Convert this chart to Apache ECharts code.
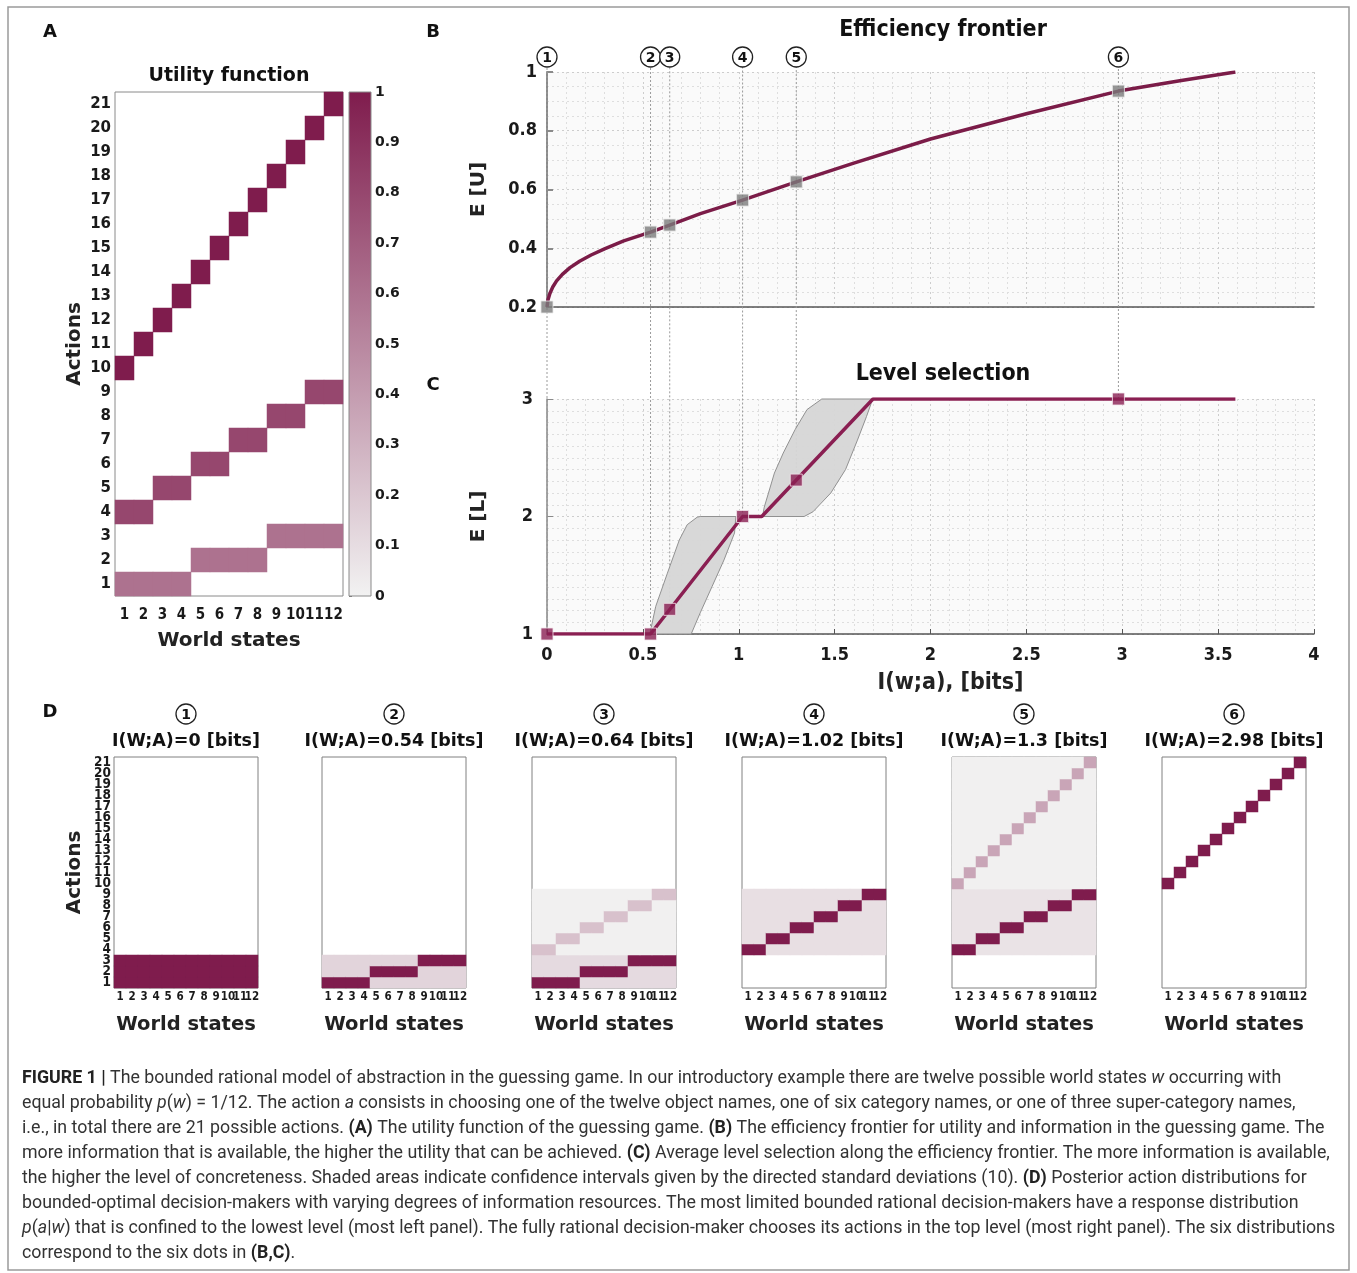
<!DOCTYPE html>
<html><head><meta charset="utf-8">
<script src="https://cdn.jsdelivr.net/npm/echarts@6/dist/echarts.min.js"></script>
<style>html,body{margin:0;padding:0;background:#fff}#chart{width:1357px;height:1273px}</style>
</head><body><div id="chart"></div><script>
// ---------- DATA ----------
const worldStates = ['1','2','3','4','5','6','7','8','9','10','11','12'];
const actions = ['1','2','3','4','5','6','7','8','9','10','11','12','13','14','15','16','17','18','19','20','21'];
// which action of each level is "correct" for each world state
const level1Action = [1,1,1,1,2,2,2,2,3,3,3,3];
const level2Action = [4,4,5,5,6,6,7,7,8,8,9,9];
const level3Action = [10,11,12,13,14,15,16,17,18,19,20,21];
const levelFirstAction = [1,4,10];
const levelLastAction = [3,9,21];
// utility of the correct action on each level (panel A)
const utilityByLevel = [0.6, 0.8, 1.0];
const colorbarTicks = [0,0.1,0.2,0.3,0.4,0.5,0.6,0.7,0.8,0.9,1];

// panel B: efficiency frontier
const frontierInfo = [0, 0.005, 0.015, 0.03, 0.05, 0.08, 0.12, 0.17, 0.23, 0.3, 0.4, 0.54, 0.64, 0.8, 1.02, 1.3, 1.6, 2.0, 2.5, 2.98, 3.3, 3.59];
const frontierUtil = [0.2, 0.224, 0.246, 0.268, 0.289, 0.311, 0.334, 0.356, 0.377, 0.398, 0.425, 0.455, 0.479, 0.518, 0.564, 0.626, 0.69, 0.772, 0.858, 0.935, 0.97, 1.0];
// the six marked decision-makers
const dotInfo  = [0, 0.54, 0.64, 1.02, 1.3, 2.98];
const dotUtil  = [0.2, 0.455, 0.479, 0.564, 0.626, 0.935];
const dotLevel = [1, 1, 1.21, 2, 2.31, 3];
const dotLabels = ['1','2','3','4','5','6'];
// panel C: level selection
const levelInfo = [0, 0.54, 1.02, 1.12, 1.7, 3.59];
const levelValue = [1, 1, 2, 2, 3, 3];
const band1 = [[0.536,1],[0.567,1.235],[0.628,1.518],[0.69,1.8],[0.731,1.93],[0.783,1.994],[0.799,2],[0.985,2],[0.978,1.86],[0.923,1.63],[0.861,1.405],[0.799,1.18],[0.752,1]];
const band2 = [[1.124,2],[1.341,2],[1.387,2.04],[1.48,2.2],[1.557,2.4],[1.619,2.65],[1.666,2.85],[1.69,2.96],[1.69,3],[1.433,3],[1.356,2.91],[1.294,2.74],[1.232,2.54],[1.186,2.37],[1.155,2.2],[1.133,2.08]];

// panel D: displayed intensity [correct action, other actions of the level] per level; null = empty
const panelTitles = ['I(W;A)=0 [bits]','I(W;A)=0.54 [bits]','I(W;A)=0.64 [bits]','I(W;A)=1.02 [bits]','I(W;A)=1.3 [bits]','I(W;A)=2.98 [bits]'];
const panelLevel1 = [[1,1],[1,0.14],[1,0.11],null,null,null];
const panelLevel2 = [null,null,[0.23,0.01],[1,0.09],[1,0.07],null];
const panelLevel3 = [null,null,null,null,[0.36,0.01],[1,0]];

const captionLines = [
 '{b|FIGURE 1 |} The bounded rational model of abstraction in the guessing game. In our introductory example there are twelve possible world states {i|w} occurring with',
 'equal probability {i|p}({i|w}) = 1/12. The action {i|a} consists in choosing one of the twelve object names, one of six category names, or one of three super-category names,',
 'i.e., in total there are 21 possible actions. {b|(A)} The utility function of the guessing game. {b|(B)} The efficiency frontier for utility and information in the guessing game. The',
 'more information that is available, the higher the utility that can be achieved. {b|(C)} Average level selection along the efficiency frontier. The more information is available,',
 'the higher the level of concreteness. Shaded areas indicate confidence intervals given by the directed standard deviations (10). {b|(D)} Posterior action distributions for',
 'bounded-optimal decision-makers with varying degrees of information resources. The most limited bounded rational decision-makers have a response distribution',
 '{i|p}({i|a}|{i|w}) that is confined to the lowest level (most left panel). The fully rational decision-maker chooses its actions in the top level (most right panel). The six distributions',
 'correspond to the six dots in {b|(B,C)}.'
];

// ---------- LAYOUT / STYLE ----------
const L = {
  a: {left:115, top:92, width:228, height:504},
  cbar: {left:349, top:92, width:22, height:504},
  b: {left:547, top:72, width:767, height:235},
  c: {left:547, top:399, width:767, height:235},
  dLefts: [114,322,532,742,952,1162], dTop:757, dWidth:144, dHeight:231,
  circleY: 57, circleR: 10, dCircleY: 714, dTitleY: 741
};
const LOW = '#f2f2f2', HIGH = '#7f1c4d';
const BOLD = 'DejaVu Sans';
const COND = "'DejaVu Sans Condensed', 'DejaVu Sans'";
const INK = '#1a1a1a';

const LEVEL_ACTIONS = [level1Action, level2Action, level3Action];
function buildCells(specs) {
  const cells = [];
  specs.forEach((spec, l) => {
    if (!spec) return;
    for (let s = 0; s < worldStates.length; s++) {
      for (let a = levelFirstAction[l]; a <= levelLastAction[l]; a++) {
        const v = LEVEL_ACTIONS[l][s] === a ? spec[0] : spec[1];
        if (v > 0) cells.push([s, a - 1, v]);
      }
    }
  });
  return cells;
}
const utilityCells = buildCells(utilityByLevel.map(u => [u, 0]));
const panelCells = panelTitles.map((t, i) => buildCells([panelLevel1[i], panelLevel2[i], panelLevel3[i]]));

const fmt1 = v => String(Math.round(v * 10) / 10);
const dotted = {type:[2,3], color:'#cdcdcd', width:1};
const minorDotted = {type:[2,3], color:'#dedede', width:1};

const grids = [
  Object.assign({show:true, borderColor:'#8a8a8a', borderWidth:1, backgroundColor:'#fff'}, L.a),
  Object.assign({show:false}, L.cbar),
  Object.assign({show:true, borderWidth:0, backgroundColor:'#fafafa'}, L.b),
  Object.assign({show:true, borderWidth:0, backgroundColor:'#fafafa'}, L.c)
];
L.dLefts.forEach(left => grids.push({show:true, borderColor:'#808080', borderWidth:1, backgroundColor:'#fff', left, top:L.dTop, width:L.dWidth, height:L.dHeight}));

const xAxes = [
  {gridIndex:0, type:'category', data:worldStates, axisLine:{show:false}, axisTick:{show:false}, splitLine:{show:false},
   axisLabel:{interval:0, margin:12, fontFamily:COND, fontWeight:'bold', fontSize:15, color:INK},
   name:'World states', nameLocation:'middle', nameGap:35, nameTextStyle:{fontFamily:BOLD, fontWeight:'bold', fontSize:20, color:'#222'}},
  {gridIndex:1, type:'value', min:0, max:1, show:false},
  {gridIndex:2, type:'value', min:0, max:4, interval:0.5, axisLabel:{show:false}, axisTick:{show:false},
   axisLine:{lineStyle:{color:'#555', width:1.5}}, splitLine:{show:true, lineStyle:dotted},
   minorTick:{show:false, splitNumber:5}, minorSplitLine:{show:true, lineStyle:minorDotted}},
  {gridIndex:3, type:'value', min:0, max:4, interval:0.5,
   axisLabel:{margin:12, fontFamily:COND, fontWeight:'bold', fontSize:18, color:INK},
   axisTick:{inside:true, length:5, lineStyle:{color:'#555'}},
   axisLine:{lineStyle:{color:'#555', width:1.5}}, splitLine:{show:true, lineStyle:dotted},
   minorTick:{show:false, splitNumber:5}, minorSplitLine:{show:true, lineStyle:minorDotted},
   name:'I(w;a), [bits]', nameLocation:'middle', nameGap:38, nameTextStyle:{fontFamily:COND, fontWeight:'bold', fontSize:23, color:'#222', padding:[0,0,0,40]}}
];
const yAxes = [
  {gridIndex:0, type:'category', data:actions, axisLine:{show:false}, axisTick:{show:false}, splitLine:{show:false},
   axisLabel:{interval:0, margin:4, fontFamily:BOLD, fontWeight:'bold', fontSize:15, color:INK},
   name:'Actions', nameLocation:'middle', nameGap:30, nameRotate:90, nameTextStyle:{fontFamily:BOLD, fontWeight:'bold', fontSize:20, color:'#222'}},
  {gridIndex:1, type:'value', min:0, max:1, interval:0.1, position:'right',
   axisLine:{show:false}, axisTick:{show:true, length:3, lineStyle:{color:'#777'}}, splitLine:{show:false},
   axisLabel:{margin:4, formatter:fmt1, fontFamily:BOLD, fontWeight:'bold', fontSize:14, color:INK}},
  {gridIndex:2, type:'value', min:0.2, max:1, interval:0.2,
   axisLine:{show:true, lineStyle:{color:'#8a8a8a', width:2}}, axisTick:{show:true, inside:true, length:6, lineStyle:{color:'#8a8a8a', width:2}},
   axisLabel:{margin:10, formatter:fmt1, fontFamily:COND, fontWeight:'bold', fontSize:18, color:INK},
   splitLine:{show:true, lineStyle:dotted}, minorTick:{show:false, splitNumber:4}, minorSplitLine:{show:true, lineStyle:minorDotted},
   name:'E [U]', nameLocation:'middle', nameGap:58, nameRotate:90, nameTextStyle:{fontFamily:BOLD, fontWeight:'bold', fontSize:20, color:'#222'}},
  {gridIndex:3, type:'value', min:1, max:3, interval:1,
   axisLine:{show:true, lineStyle:{color:'#8a8a8a', width:1.5}}, axisTick:{show:true, inside:true, length:6, lineStyle:{color:'#8a8a8a'}},
   axisLabel:{margin:14, fontFamily:COND, fontWeight:'bold', fontSize:18, color:INK},
   splitLine:{show:true, lineStyle:dotted}, minorTick:{show:false, splitNumber:10}, minorSplitLine:{show:true, lineStyle:minorDotted},
   name:'E [L]', nameLocation:'middle', nameGap:58, nameRotate:90, nameTextStyle:{fontFamily:BOLD, fontWeight:'bold', fontSize:20, color:'#222'}}
];
L.dLefts.forEach((left, i) => {
  const gi = 4 + i;
  xAxes.push({gridIndex:gi, type:'category', data:worldStates, axisLine:{show:false}, axisTick:{show:false}, splitLine:{show:false},
    axisLabel:{interval:0, margin:3, fontFamily:COND, fontWeight:'bold', fontSize:11.5, color:INK},
    name:'World states', nameLocation:'middle', nameGap:27, nameTextStyle:{fontFamily:BOLD, fontWeight:'bold', fontSize:19.5, color:'#222'}});
  yAxes.push({gridIndex:gi, type:'category', data:actions, axisLine:{show:false}, axisTick:{show:false}, splitLine:{show:false},
    axisLabel:{show:i === 0, interval:0, margin:3, fontFamily:COND, fontWeight:'bold', fontSize:13.5, lineHeight:11, color:INK},
    name:i === 0 ? 'Actions' : '', nameLocation:'middle', nameGap:29, nameRotate:90, nameTextStyle:{fontFamily:BOLD, fontWeight:'bold', fontSize:20, color:'#222'}});
});

const series = [
  {type:'heatmap', xAxisIndex:0, yAxisIndex:0, data:utilityCells, emphasis:{disabled:true}, itemStyle:{borderWidth:0}},
  {type:'custom', xAxisIndex:1, yAxisIndex:1, data:[[colorbarTicks[0], colorbarTicks[colorbarTicks.length-1]]], silent:true,
   renderItem(params, api) {
     const p0 = api.coord([0, api.value(0)]), p1 = api.coord([1, api.value(1)]);
     return {type:'rect', shape:{x:p0[0], y:p1[1], width:p1[0]-p0[0], height:p0[1]-p1[1]},
       style:{fill:{type:'linear', x:0, y:1, x2:0, y2:0, colorStops:[{offset:0, color:LOW},{offset:1, color:HIGH}]}, stroke:'#8a8a8a', lineWidth:1}};
   }},
  {type:'line', xAxisIndex:2, yAxisIndex:2, data:frontierInfo.map((x,i)=>[x, frontierUtil[i]]), showSymbol:false, smooth:false,
   lineStyle:{color:'#7b1c48', width:3.5, join:'round'}, z:4, silent:true},
  {type:'scatter', xAxisIndex:2, yAxisIndex:2, data:dotInfo.map((x,i)=>[x, dotUtil[i]]), symbol:'rect', symbolSize:12,
   itemStyle:{color:'#7c7c7c', borderColor:'#e8e8e8', borderWidth:1}, z:5, silent:true},
  {type:'custom', xAxisIndex:3, yAxisIndex:3, data:[[0],[1]], z:3, silent:true,
   renderItem(params, api) {
     const poly = [band1, band2][api.value(0)];
     return {type:'polygon', shape:{points:poly.map(p => api.coord(p))}, style:{fill:'#d6d6d6', stroke:'#8c8c8c', lineWidth:1, opacity:0.95}};
   }},
  {type:'line', xAxisIndex:3, yAxisIndex:3, data:levelInfo.map((x,i)=>[x, levelValue[i]]), showSymbol:false,
   lineStyle:{color:'#8a1f52', width:3.5}, z:4, silent:true},
  {type:'scatter', xAxisIndex:3, yAxisIndex:3, data:dotInfo.map((x,i)=>[x, dotLevel[i]]), symbol:'rect', symbolSize:12,
   itemStyle:{color:'#8a1f52', borderColor:'#f3e6ec', borderWidth:1}, z:5, silent:true},
  {type:'custom', xAxisIndex:3, yAxisIndex:3, data:dotInfo.map((x,i)=>[x, dotLevel[i], dotLabels[i]]), clip:false, z:2, silent:true,
   renderItem(params, api) {
     const p = api.coord([api.value(0), api.value(1)]);
     return {type:'group', children:[
       {type:'line', shape:{x1:p[0], y1:p[1], x2:p[0], y2:L.circleY + L.circleR}, style:{stroke:'#9a9a9a', lineWidth:1, lineDash:[2,2]}},
       {type:'circle', shape:{cx:p[0], cy:L.circleY, r:L.circleR}, style:{fill:'#fff', stroke:'#222', lineWidth:1.3}},
       {type:'text', style:{text:String(api.value(2)), x:p[0], y:L.circleY + 1, align:'center', verticalAlign:'middle', font:'bold 14px DejaVu Sans', fill:'#111'}}
     ]};
   }}
];
panelCells.forEach((cells, i) => {
  series.push({type:'heatmap', xAxisIndex:4+i, yAxisIndex:4+i, data:cells, emphasis:{disabled:true}, itemStyle:{borderWidth:0}});
});

const graphics = [
  {type:'rect', shape:{x:8, y:7, width:1341, height:1263}, style:{fill:'none', stroke:'#9a9a9a', lineWidth:1.5}, z:-1},
  {type:'text', x:50, y:32, style:{text:'A', font:'bold 18px DejaVu Sans', fill:'#111', align:'center', verticalAlign:'middle'}},
  {type:'text', x:433, y:32, style:{text:'B', font:'bold 18px DejaVu Sans', fill:'#111', align:'center', verticalAlign:'middle'}},
  {type:'text', x:433, y:385, style:{text:'C', font:'bold 18px DejaVu Sans', fill:'#111', align:'center', verticalAlign:'middle'}},
  {type:'text', x:50, y:712, style:{text:'D', font:'bold 18px DejaVu Sans', fill:'#111', align:'center', verticalAlign:'middle'}},
  {type:'text', x:229, y:76, style:{text:'Utility function', font:'bold 19px DejaVu Sans', fill:'#111', align:'center', verticalAlign:'middle'}},
  {type:'text', x:943, y:30, style:{text:'Efficiency frontier', font:"bold 23px 'DejaVu Sans Condensed', 'DejaVu Sans'", fill:'#111', align:'center', verticalAlign:'middle'}},
  {type:'text', x:943, y:374, style:{text:'Level selection', font:"bold 23px 'DejaVu Sans Condensed', 'DejaVu Sans'", fill:'#111', align:'center', verticalAlign:'middle'}}
];
L.dLefts.forEach((left, i) => {
  const cx = left + L.dWidth / 2;
  graphics.push({type:'circle', shape:{cx, cy:L.dCircleY, r:L.circleR}, style:{fill:'#fff', stroke:'#222', lineWidth:1.3}});
  graphics.push({type:'text', x:cx, y:L.dCircleY + 1, style:{text:dotLabels[i], font:'bold 14px DejaVu Sans', fill:'#111', align:'center', verticalAlign:'middle'}});
  graphics.push({type:'text', x:cx, y:L.dTitleY, style:{text:panelTitles[i], font:'bold 17.5px DejaVu Sans', fill:'#111', align:'center', verticalAlign:'middle'}});
});
const CAP = 17.8;
captionLines.forEach((line, i) => {
  graphics.push({type:'text', x:22, y:1079 + i * 25, style:{text:line, fontFamily:'Roboto', fontSize:CAP, fill:'#333', align:'left', verticalAlign:'middle',
    rich:{b:{fontFamily:'Roboto', fontSize:CAP, fontWeight:'bold', fill:'#222', color:'#222'}, i:{fontFamily:'Roboto', fontSize:CAP, fontStyle:'italic', color:'#333'}}}});
});

const chart = echarts.init(document.getElementById('chart'), null, {renderer:'canvas'});
chart.setOption({
  animation:false,
  backgroundColor:'#fff',
  grid:grids, xAxis:xAxes, yAxis:yAxes,
  visualMap:[{type:'continuous', show:false, min:0, max:1, dimension:2, seriesIndex:[0,8,9,10,11,12,13], inRange:{color:[LOW, HIGH]}}],
  series, graphic:graphics
});
</script></body></html>
